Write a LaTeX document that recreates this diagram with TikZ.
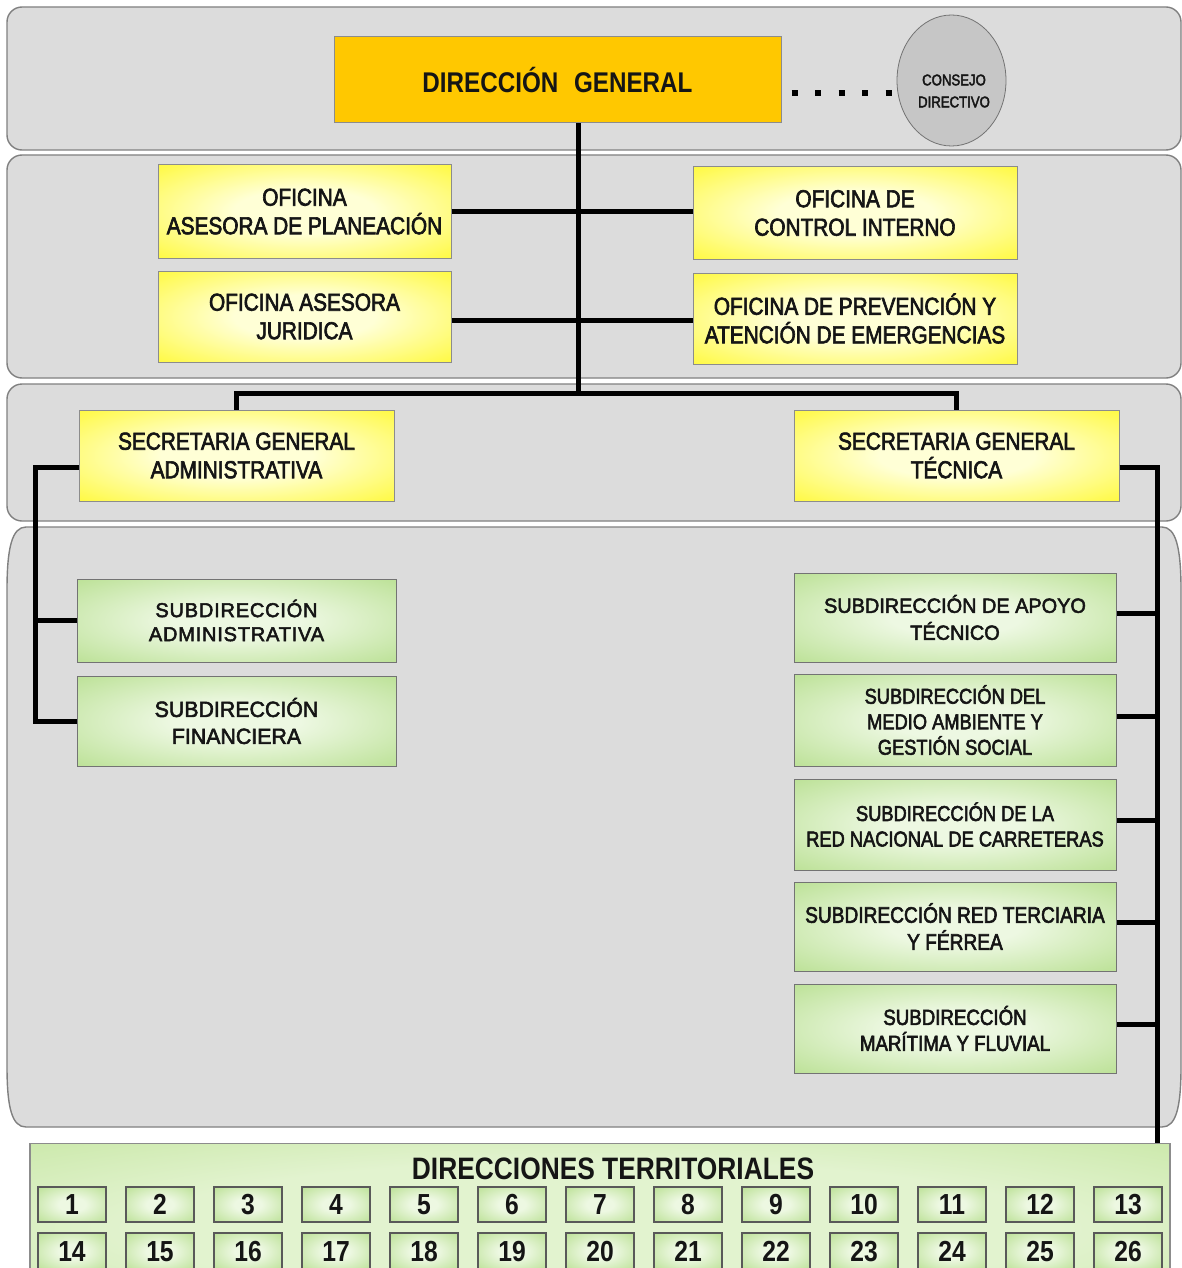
\documentclass[tikz,border=0pt]{standalone}
\usepackage{fontspec}
\setmainfont{Liberation Sans}
\newfontfamily\cond[FakeStretch=0.85,FakeBold=2.6]{Liberation Sans}
\newfontfamily\condb[FakeStretch=0.85]{Liberation Sans}
\newfontfamily\wide[FakeStretch=0.97,FakeBold=2.6]{Liberation Sans}
\newfontfamily\spaced[LetterSpace=4,FakeBold=2.6]{Liberation Sans}
\usetikzlibrary{shapes.geometric}

\definecolor{panelfill}{HTML}{DCDCDC}
\definecolor{paneledge}{HTML}{808080}
\definecolor{dgorange}{HTML}{FFC800}
\definecolor{ybright}{HTML}{FFF700}
\definecolor{ypale}{HTML}{FFFFD6}
\definecolor{gedge}{HTML}{A8D878}
\definecolor{gpale}{HTML}{EDF8E2}
\definecolor{dtedge}{HTML}{B8E08C}
\definecolor{dtpale}{HTML}{E2F3CF}
\definecolor{boxedge}{HTML}{8C8C8C}
\definecolor{consejofill}{HTML}{C6C6C6}
\definecolor{inktext}{HTML}{151515}

% soft centre glow used by the yellow and green boxes
\pgfdeclareradialshading{yglow}{\pgfpoint{0bp}{0bp}}{%
  color(0bp)=(ypale); color(12bp)=(ypale); color(46bp)=(ybright); color(75bp)=(ybright)}
\pgfdeclareradialshading{gglow}{\pgfpoint{0bp}{0bp}}{%
  color(0bp)=(gpale); color(10bp)=(gpale); color(46bp)=(gedge); color(75bp)=(gedge)}
\pgfdeclareradialshading{dtglow}{\pgfpoint{0bp}{0bp}}{%
  color(0bp)=(dtpale); color(20bp)=(dtpale); color(50bp)=(dtedge); color(75bp)=(dtedge)}

\tikzset{
  panel/.style={draw=paneledge, line width=1.4pt, fill=panelfill, rounded corners=15pt},
  dgbox/.style={draw=boxedge, line width=1pt, fill=dgorange, text=inktext,
    font=\condb\bfseries\fontsize{28.5}{32}\selectfont, inner sep=0pt},
  ybox/.style={draw=boxedge, line width=1pt, shading=yglow, text=inktext, align=center,
    font=\cond\fontsize{24.5}{28.5}\selectfont, inner sep=0pt},
  gbox/.style={draw=black!55, line width=1pt, shading=gglow, text=inktext, align=center,
    inner sep=0pt},
  dtbox/.style={draw=black!45, line width=1.2pt, shading=dtglow},
  numbox/.style={draw=black!65, line width=1.2pt, shading=gglow, text=inktext,
    minimum width=68pt, minimum height=35pt, inner sep=0pt,
    font=\condb\bfseries\fontsize{29}{32}\selectfont},
  consejobox/.style={ellipse, draw=black!55, line width=0.8pt, fill=consejofill,
    minimum width=109pt, minimum height=131pt, inner sep=0pt},
  consejotext/.style={align=center, text=inktext, inner sep=0pt,
    font=\cond\fontsize{15.5}{22}\selectfont},
  link/.style={line width=5pt, black},
  dotlink/.style={line width=6pt, black, dash pattern=on 6pt off 17.5pt},
}

\begin{document}
\begin{tikzpicture}[x=1pt,y=-1pt]
\clip (0,0) rectangle (1182,1268);
\fill[white] (0,0) rectangle (1182,1268);

% grey bands behind the levels of the chart
\draw[panel] (7,7) rectangle (1181,150);
\draw[panel] (7,155) rectangle (1181,378);
\draw[panel] (7,384) rectangle (1181,521);
\draw[panel, rounded corners=0pt] (26,527) -- (1162,527)
  .. controls (1176,527) and (1181,548) .. (1181,590) -- (1181,1066)
  .. controls (1181,1108) and (1176,1127) .. (1162,1127) -- (26,1127)
  .. controls (12,1127) and (7,1108) .. (7,1066) -- (7,590)
  .. controls (7,548) and (12,527) .. (26,527) -- cycle;

% top level
\node[dgbox, minimum width=447pt, minimum height=86pt] (dg) at (557.5,80)
  {DIRECCIÓN\hspace{0.55em}GENERAL};
\node[consejobox] (cd) at (951.5,80.5) {};
\node[consejotext] (cdt) at (954,91) {CONSEJO\\DIRECTIVO};

% advisory offices
\node[ybox, minimum width=293pt, minimum height=93pt] (opl) at (304.5,211.5)
  {OFICINA\\ASESORA DE PLANEACIÓN};
\node[ybox, minimum width=324pt, minimum height=92pt] (oci) at (855,213)
  {OFICINA DE\\CONTROL INTERNO};
\node[ybox, minimum width=293pt, minimum height=91pt] (oaj) at (304.5,316.5)
  {OFICINA ASESORA\\JURIDICA};
\node[ybox, minimum width=324pt, minimum height=91pt] (opa) at (855,318.5)
  {OFICINA DE PREVENCIÓN Y\\ATENCIÓN DE EMERGENCIAS};

% general secretariats
\node[ybox, minimum width=315pt, minimum height=91pt] (sga) at (236.5,455.5)
  {SECRETARIA GENERAL\\ADMINISTRATIVA};
\node[ybox, minimum width=325pt, minimum height=91pt] (sgt) at (956.5,455.5)
  {SECRETARIA GENERAL\\TÉCNICA};

% sub-directorates, administrative side
\node[gbox, minimum width=319pt, minimum height=83pt,
  font=\spaced\fontsize{20}{24}\selectfont] (sad) at (236.5,620.5)
  {SUBDIRECCIÓN\\ADMINISTRATIVA};
\node[gbox, minimum width=319pt, minimum height=90pt,
  font=\wide\fontsize{22}{27}\selectfont] (sfi) at (236.5,721)
  {SUBDIRECCIÓN\\FINANCIERA};

% sub-directorates, technical side
\node[gbox, minimum width=322pt, minimum height=89pt,
  font=\wide\fontsize{20.5}{27}\selectfont] (s1) at (955,617.5)
  {SUBDIRECCIÓN DE APOYO\\TÉCNICO};
\node[gbox, minimum width=322pt, minimum height=92pt,
  font=\cond\fontsize{21.5}{25.5}\selectfont] (s2) at (955,720)
  {SUBDIRECCIÓN DEL\\MEDIO AMBIENTE Y\\GESTIÓN SOCIAL};
\node[gbox, minimum width=322pt, minimum height=91pt,
  font=\cond\fontsize{21.5}{25.5}\selectfont] (s3) at (955,824.5)
  {SUBDIRECCIÓN DE LA\\RED NACIONAL DE CARRETERAS};
\node[gbox, minimum width=322pt, minimum height=89pt,
  font=\cond\fontsize{22.5}{27}\selectfont] (s4) at (955,926.5)
  {SUBDIRECCIÓN RED TERCIARIA\\Y FÉRREA};
\node[gbox, minimum width=322pt, minimum height=89pt,
  font=\cond\fontsize{22}{26}\selectfont] (s5) at (955,1028.5)
  {SUBDIRECCIÓN\\MARÍTIMA Y FLUVIAL};

% territorial directorates
\node[dtbox, minimum width=1140pt, minimum height=170pt, anchor=north] (dt) at (600,1143) {};
\node[text=inktext, font=\condb\bfseries\fontsize{31}{34}\selectfont] (dtt) at (613,1169)
  {DIRECCIONES TERRITORIALES};
\foreach \i in {1,...,13}{
  \pgfmathtruncatemacro{\j}{\i+13}
  \node[numbox] (n\i) at ({72+88*(\i-1)},1204.5) {\i};
  \node[numbox, minimum height=37pt] (n\j) at ({72+88*(\i-1)},1251.5) {\j};
}

% connectors
\coordinate (hub) at (578,393);
\coordinate (la) at (35,467);
\coordinate (ra) at (1157,467);
\coordinate (dl) at ([shift={(10,13)}]dg.east);

\draw[dotlink] (dl) -- (dl -| cd.west);
\draw[link] (dg.south -| hub) -- (hub);
\draw[link] (opl.east) -- (opl.east -| oci.west);
\draw[link] (oaj.east) ++(0,4) -- (opa.west |- 0,320.5);
\draw[link] (sga.north) |- (hub) -| (sgt.north);
\draw[link] (la -| sga.west) -- (la) |- (sfi.west);
\draw[link] (la |- sad.west) -- (sad.west);
\draw[link] (ra -| sgt.east) -- (ra) -- (ra |- dt.north);
\foreach \b in {s1,s2,s3,s4,s5}{
  \draw[link] ([yshift=4pt]\b.east) -- ([yshift=4pt]\b.east -| ra);
}
\end{tikzpicture}
\end{document}
